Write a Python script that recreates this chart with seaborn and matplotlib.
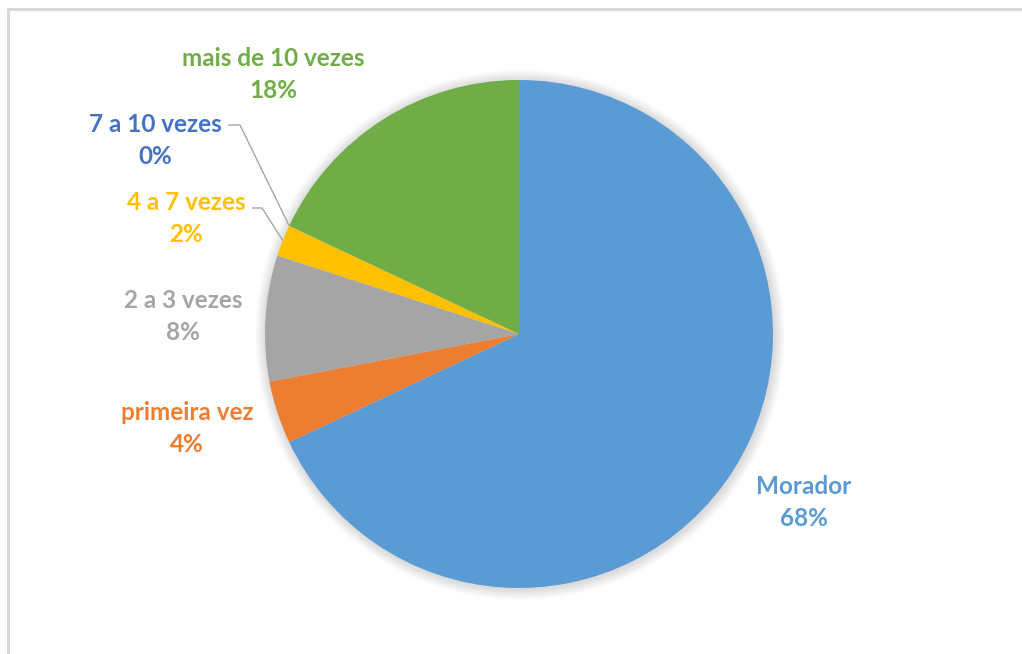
import numpy as np
import matplotlib
matplotlib.use("Agg")
import matplotlib.pyplot as plt
from matplotlib.patches import Circle
import seaborn as sns

# Visitor frequency breakdown
categories = ["Morador", "primeira vez", "2 a 3 vezes", "4 a 7 vezes",
              "7 a 10 vezes", "mais de 10 vezes"]
shares = [68, 4, 8, 2, 0, 18]
colors = ["#5B9BD5", "#ED7D31", "#A5A5A5", "#FFC000", "#4472C4", "#70AD47"]

sns.set_theme(style="white")
plt.rcParams["font.family"] = ["Lato", "DejaVu Sans"]

W, H = 1022, 654
fig = plt.figure(figsize=(W / 100, H / 100), dpi=100)
fig.patch.set_facecolor("white")
ax = fig.add_axes([0, 0, 1, 1])

cx, cy, r = 519, H - 334, 254

# soft shadow around the pie
for k in range(12):
    ax.add_patch(Circle((cx + 1, cy - 1), r + 1 + k * 0.9, color="#000000",
                        alpha=0.012, lw=0, zorder=0))

palette = sns.color_palette(colors)
wedges, _ = ax.pie(shares, colors=palette, startangle=90, counterclock=False,
                   center=(cx, cy), radius=r,
                   wedgeprops=dict(linewidth=0, edgecolor="none"))
for w in wedges:
    w.set_zorder(2)

ax.set_xlim(0, W)
ax.set_ylim(0, H)
ax.set_aspect("equal", adjustable="box")
ax.axis("off")

# label anchor positions (center of the name line, in pixels from top-left)
label_pos = {
    "Morador": (804, 486),
    "primeira vez": (187, 413),
    "2 a 3 vezes": (183, 300),
    "4 a 7 vezes": (186, 202),
    "7 a 10 vezes": (155, 124),
    "mais de 10 vezes": (273, 59),
}
line_gap = 32
fs = 17.5
for cat, val, col in zip(categories, shares, colors):
    x, y = label_pos[cat]
    ax.text(x, H - y, cat, color=col, fontsize=fs, fontweight="bold",
            ha="center", va="center", zorder=5)
    ax.text(x, H - y - line_gap, f"{val}%", color=col, fontsize=fs,
            fontweight="bold", ha="center", va="center", zorder=5)

# leader lines for the two thin slices
cum = np.cumsum([0] + shares) / sum(shares)
def edge_point(i):
    frac = (cum[i] + cum[i + 1]) / 2
    ang = np.deg2rad(90 - 360 * frac)
    return cx + r * np.cos(ang), cy + r * np.sin(ang)

leaders = {"7 a 10 vezes": (228, 240, 125), "4 a 7 vezes": (252, 262, 208)}
for cat, (x0, x1, y0) in leaders.items():
    i = categories.index(cat)
    ex, ey = edge_point(i)
    ax.plot([x0, x1, ex], [H - y0, H - y0, ey], color="#A6A6A6", lw=1.0,
            zorder=4, solid_capstyle="butt")

# chart frame
fig.add_artist(plt.Line2D([8 / W, 8 / W], [0, 1 - 9 / H], color="#D9D9D9",
                          lw=2.2, transform=fig.transFigure))
fig.add_artist(plt.Line2D([8 / W, 1], [1 - 9 / H, 1 - 9 / H], color="#D9D9D9",
                          lw=2.2, transform=fig.transFigure))

fig.savefig("out.png", dpi=100, facecolor="white")
